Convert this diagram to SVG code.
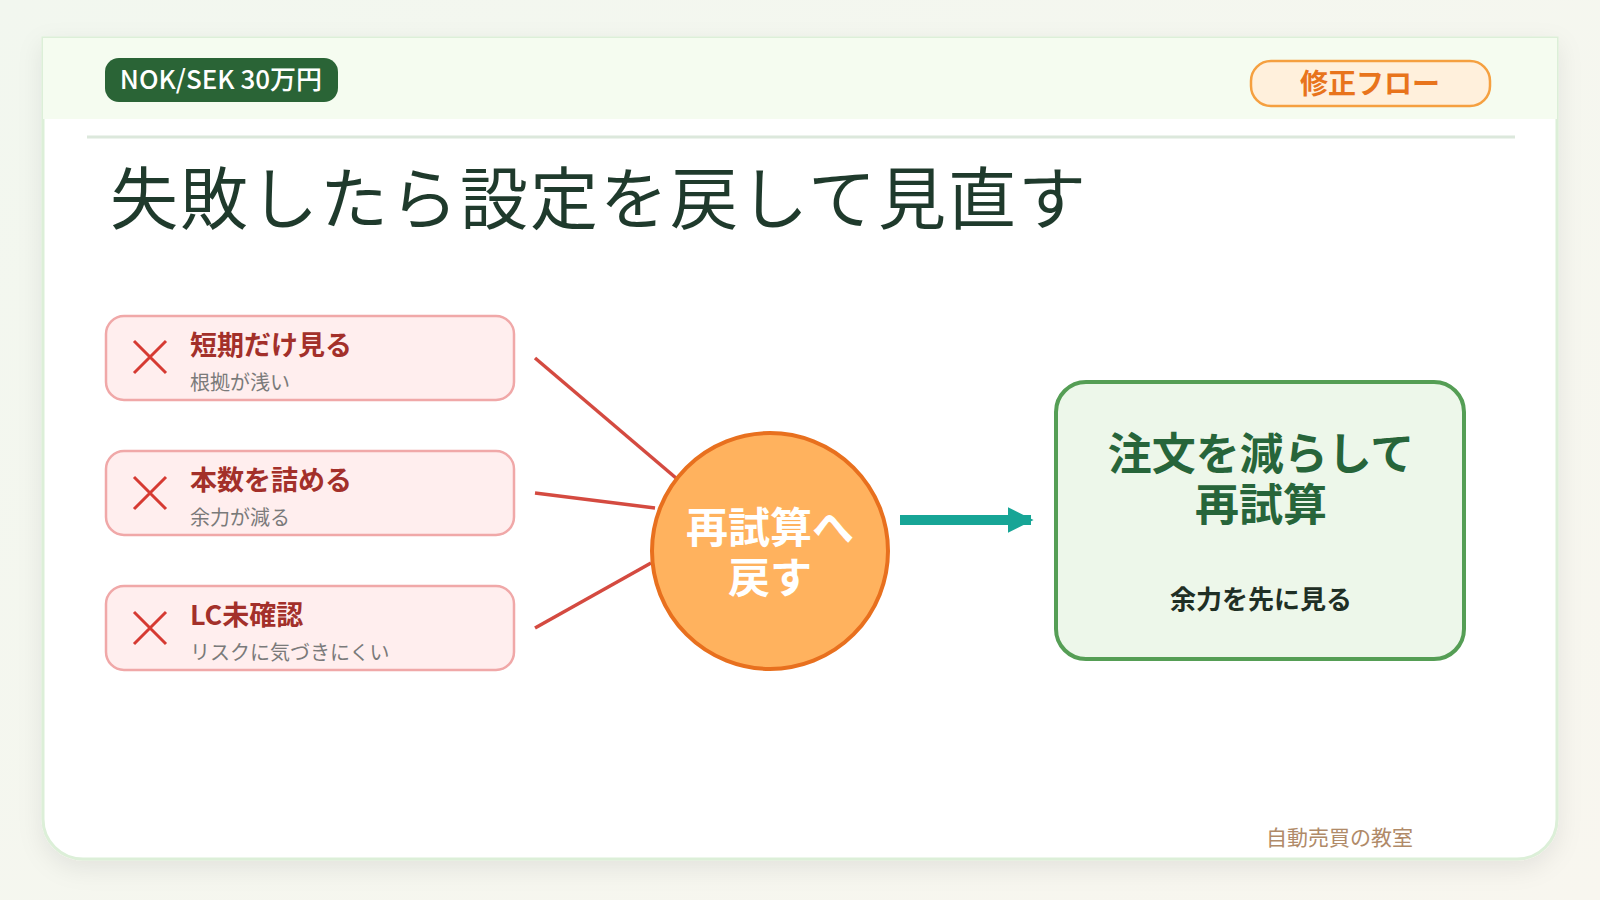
<svg xmlns="http://www.w3.org/2000/svg" width="1600" height="900" viewBox="0 0 1600 900">
<defs>
<linearGradient id="bg" x1="0" y1="0" x2="1" y2="1"><stop offset="0" stop-color="#f2f7ef"/><stop offset="1" stop-color="#f8f6ef"/></linearGradient>
<filter id="sh" x="-5%" y="-5%" width="110%" height="115%"><feDropShadow dx="0" dy="8" stdDeviation="12" flood-color="#000" flood-opacity="0.08"/></filter>
<marker id="ah" viewBox="0 0 10 10" refX="9" refY="5" markerWidth="2.6" markerHeight="2.6" orient="auto"><path d="M0,0 L10,5 L0,10 z" fill="#17a596"/></marker>
</defs>
<style>
.jp{font-family:"Noto Sans CJK JP","Noto Sans",sans-serif}
.box{fill:#ffeeee;stroke:#f0a8a8;stroke-width:2.5}
.x{stroke:#d63a32;stroke-width:3}
.lab{font-size:27px;font-weight:700;fill:#a3302a}
.sub{font-size:20px;fill:#7a7a7a}
.con{stroke:#d44a40;stroke-width:3.5}
</style>
<rect width="1600" height="900" fill="url(#bg)"/>
<g id="card">
<path d="M43,38 H1557 V819 a40,40 0 0 1 -40,40 H83 a40,40 0 0 1 -40,-40 Z" fill="#ffffff" stroke="#dcefd8" stroke-width="3" filter="url(#sh)"/>
<rect x="43" y="38" width="1514" height="81" fill="#f5fcf0"/>
<line x1="87" y1="137" x2="1515" y2="137" stroke="#dce8dc" stroke-width="3"/>
</g>
<g id="badge">
<rect x="105" y="58" width="233" height="44" rx="14" fill="#2a6436"/>
<text x="221" y="89" text-anchor="middle" class="jp" font-size="26" font-weight="500" fill="#fff">NOK/SEK 30万円</text>
</g>
<g id="tag">
<rect x="1251" y="61" width="239" height="45" rx="20" fill="#fff0dc" stroke="#f5a040" stroke-width="2.5"/>
<text x="1370" y="94" text-anchor="middle" class="jp" font-size="28" font-weight="700" fill="#e8741c">修正フロー</text>
</g>
<text id="title" x="110" y="224" class="jp" font-size="68" letter-spacing="2" fill="#1f3a2c">失敗したら設定を戻して見直す</text>
<g id="connectors">
<line class="con" x1="535" y1="358" x2="676" y2="478"/>
<line class="con" x1="535" y1="493" x2="655" y2="508"/>
<line class="con" x1="535" y1="628" x2="651" y2="563"/>
<line x1="900" y1="520" x2="1031" y2="520" stroke="#17a596" stroke-width="10" marker-end="url(#ah)"/>
</g>
<g id="n1">
<rect class="box" x="106" y="316" width="408" height="84" rx="18"/>
<path class="x" d="M134,341 L166,373 M166,341 L134,373"/>
<text class="jp lab" x="190" y="355">短期だけ見る</text>
<text class="jp sub" x="190" y="390">根拠が浅い</text>
</g>
<g id="n2">
<rect class="box" x="106" y="451" width="408" height="84" rx="18"/>
<path class="x" d="M134,477 L166,509 M166,477 L134,509"/>
<text class="jp lab" x="190" y="490">本数を詰める</text>
<text class="jp sub" x="190" y="525">余力が減る</text>
</g>
<g id="n3">
<rect class="box" x="106" y="586" width="408" height="84" rx="18"/>
<path class="x" d="M134,612 L166,644 M166,612 L134,644"/>
<text class="jp lab" x="190" y="625">LC未確認</text>
<text class="jp sub" x="190" y="660">リスクに気づきにくい</text>
</g>
<g id="hub">
<circle cx="770" cy="551" r="118" fill="#ffb25e" stroke="#e8701e" stroke-width="4"/>
<text x="770" y="543" text-anchor="middle" class="jp" font-size="42" font-weight="700" fill="#fff">再試算へ</text>
<text x="770" y="593" text-anchor="middle" class="jp" font-size="42" font-weight="700" fill="#fff">戻す</text>
</g>
<g id="result">
<rect x="1056" y="382" width="408" height="277" rx="30" fill="#edf7ea" stroke="#559e55" stroke-width="4"/>
<text x="1261" y="470" text-anchor="middle" class="jp" font-size="44" font-weight="700" fill="#27653a">注文を減らして</text>
<text x="1261" y="521" text-anchor="middle" class="jp" font-size="44" font-weight="700" fill="#27653a">再試算</text>
<text x="1261" y="609" text-anchor="middle" class="jp" font-size="26" font-weight="700" fill="#1f2f25">余力を先に見る</text>
</g>
<text id="footer" x="1413" y="845" text-anchor="end" class="jp" font-size="21" fill="#b08a68">自動売買の教室</text>
</svg>
